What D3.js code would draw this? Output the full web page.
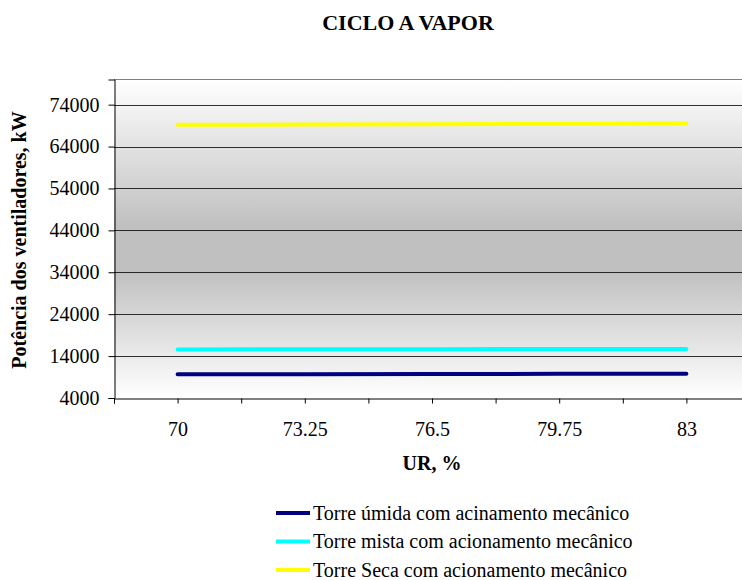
<!DOCTYPE html>
<html>
<head>
<meta charset="utf-8">
<script src="https://cdn.jsdelivr.net/npm/d3@7"></script>
<style>
  body { margin: 0; background: #fff; }
  svg, svg text { font-family: "Liberation Serif", "Times New Roman", serif !important; }
</style>
</head>
<body>
<svg id="chart" width="742" height="580"></svg>
<script>
// data
const urValues = [70, 73.25, 76.5, 79.75, 83];
const torreUmida = [9650, 9680, 9720, 9760, 9800];
const torreMista = [15600, 15620, 15650, 15680, 15700];
const torreSeca = [69200, 69250, 69300, 69400, 69500];
const yTicks = [4000, 14000, 24000, 34000, 44000, 54000, 64000, 74000];
const seriesNames = [
  "Torre úmida com acinamento mecânico",
  "Torre mista com acionamento mecânico",
  "Torre Seca com acionamento mecânico"
];
const seriesColors = ["#000080", "#00ffff", "#ffff00"];

const svg = d3.select("#chart");
const margin = { left: 114, top: 79.5, right: 750, bottom: 398 };

const x = d3.scaleLinear().domain([68.375, 84.625]).range([margin.left, margin.right]);
const y = d3.scaleLinear().domain([4000, 80000]).range([margin.bottom, margin.top]);

// background gradient
const grad = svg.append("defs").append("linearGradient")
  .attr("id", "bg").attr("x1", 0).attr("y1", 0).attr("x2", 0).attr("y2", 1);
grad.append("stop").attr("offset", "0%").attr("stop-color", "#ffffff");
grad.append("stop").attr("offset", "46%").attr("stop-color", "#c0c0c0");
grad.append("stop").attr("offset", "60%").attr("stop-color", "#c0c0c0");
grad.append("stop").attr("offset", "100%").attr("stop-color", "#ffffff");

svg.append("rect")
  .attr("x", margin.left).attr("y", margin.top)
  .attr("width", margin.right - margin.left).attr("height", margin.bottom - margin.top)
  .attr("fill", "url(#bg)");

// top border
svg.append("line")
  .attr("x1", margin.left).attr("x2", margin.right)
  .attr("y1", margin.top).attr("y2", margin.top)
  .attr("stroke", "#808080");

// gridlines
svg.append("g").selectAll("line").data(yTicks.slice(1)).join("line")
  .attr("x1", margin.left).attr("x2", margin.right)
  .attr("y1", d => Math.round(y(d)) + 0.5).attr("y2", d => Math.round(y(d)) + 0.5)
  .attr("stroke", "#000").attr("stroke-opacity", 0.8);

// y axis
const yAxis = svg.append("g")
  .attr("transform", `translate(${margin.left + 0.5},0)`)
  .call(d3.axisLeft(y).tickValues(yTicks).tickFormat(d3.format("d")).tickSize(6).tickPadding(9));
yAxis.attr("font-family", null).attr("font-size", 20);
yAxis.selectAll("text").attr("fill", "#000");
yAxis.select(".domain").attr("stroke", "#000");

// x axis
const xTickVals = d3.range(0, 11).map(k => 68.375 + k * 1.625);
const xAxis = svg.append("g")
  .attr("transform", `translate(0,${margin.bottom + 0.5})`)
  .call(d3.axisBottom(x).tickValues(xTickVals).tickSize(5)
    .tickFormat(d => urValues.some(v => Math.abs(v - d) < 1e-6) ? d3.format("")(+d.toFixed(2)) : ""));
xAxis.attr("font-family", null).attr("font-size", 20);
xAxis.selectAll("text").attr("fill", "#000").attr("y", 37).attr("dy", 0);
xAxis.select(".domain").attr("stroke", "#000");

// series lines
const allSeries = [torreUmida, torreMista, torreSeca];
const line = d3.line().x((d, i) => x(urValues[i])).y(d => y(d));
allSeries.forEach((s, i) => {
  svg.append("path")
    .datum(s)
    .attr("d", line)
    .attr("fill", "none")
    .attr("stroke", seriesColors[i])
    .attr("stroke-width", 4)
    .attr("stroke-linecap", "round");
});

// title
svg.append("text")
  .attr("x", 408).attr("y", 30)
  .attr("text-anchor", "middle")
  .attr("font-size", 22).attr("font-weight", "bold")
  .text("CICLO A VAPOR");

// axis titles
svg.append("text")
  .attr("x", 432).attr("y", 470)
  .attr("text-anchor", "middle")
  .attr("font-size", 20).attr("font-weight", "bold")
  .text("UR, %");

svg.append("text")
  .attr("transform", "translate(26,240) rotate(-90)")
  .attr("text-anchor", "middle")
  .attr("font-size", 20).attr("font-weight", "bold")
  .text("Potência dos ventiladores, kW");

// legend
const legend = svg.append("g").attr("transform", "translate(276,513)");
seriesNames.forEach((name, i) => {
  const row = legend.append("g").attr("transform", `translate(0,${i * 28.5})`);
  row.append("line")
    .attr("x1", 0).attr("x2", 34).attr("y1", 0).attr("y2", 0)
    .attr("stroke", seriesColors[i]).attr("stroke-width", 4);
  row.append("text")
    .attr("x", 37).attr("y", 6.5)
    .attr("font-size", 20)
    .text(name);
});
</script>
</body>
</html>
